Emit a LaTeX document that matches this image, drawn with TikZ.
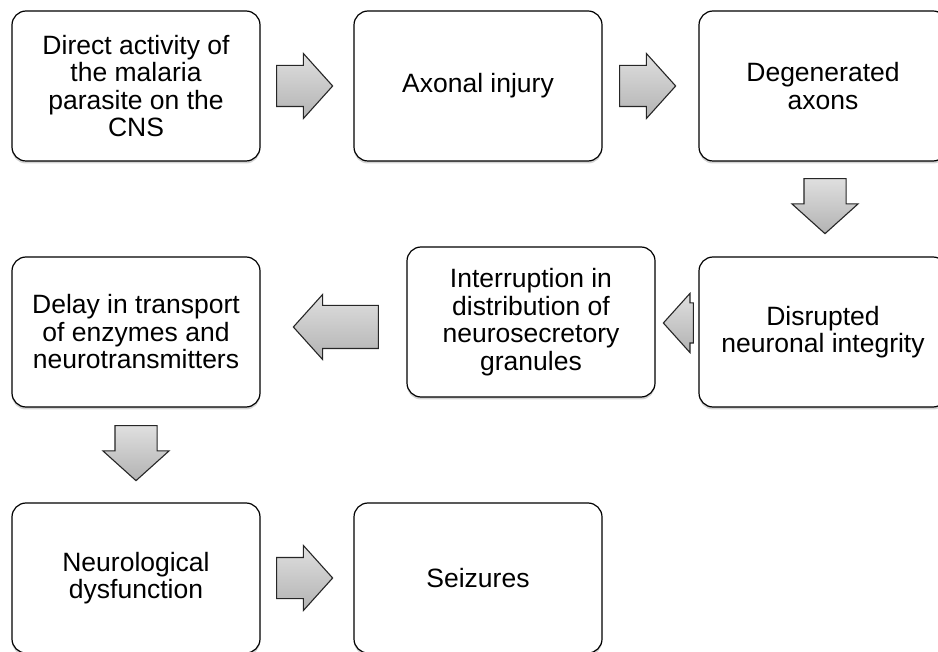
\documentclass[tikz,border=0pt]{standalone}
\usepackage{fontspec}
\setmainfont{Liberation Sans}
\usetikzlibrary{shapes.arrows,shadows,calc}

\begin{document}
\begin{tikzpicture}[x=1pt,y=-1pt,
	box/.style={draw, line width=1.2pt, rounded corners=14pt, fill=white,
		minimum width=248pt, minimum height=150pt, align=center,
		font=\fontsize{26.5}{27.5}\selectfont,
		drop shadow={shadow xshift=0pt, shadow yshift=-2.5pt, opacity=.35}},
	flowarrow/.style={single arrow, draw=black!85, line width=1.1pt, anchor=tip,
		top color=gray!25, bottom color=gray!60, inner xsep=0pt, inner ysep=20pt,
		single arrow head extend=12pt, single arrow tip angle=96},
	downarrow/.style={flowarrow, inner xsep=20.5pt, inner ysep=0pt, shape border rotate=270}]
				\useasboundingbox (0,0) rectangle (938,652);
				
				\node[box] (A) at (136,86) {Direct activity of\\the malaria\\parasite on the\\CNS};
				\node[box] (B) at (478,86) {Axonal injury};
				\node[box] (C) at (823,86) {Degenerated\\axons};
				\node[box] (D) at (823,332) {Disrupted\\neuronal integrity};
				\node[box] (E) at (531,322) {Interruption in\\distribution of\\neurosecretory\\granules};
				\node[box] (F) at (136,332) {Delay in transport\\of enzymes and\\neurotransmitters};
				\node[box] (G) at (136,578) {Neurological\\dysfunction};
				\node[box] (H) at (478,578) {Seizures};
				
				\node[flowarrow, minimum height=56pt] (AB) at ($(B.west)+(-20,0)$) {};
				\node[flowarrow, minimum height=56pt] (BC) at ($(C.west)+(-22,0)$) {};
				\node[downarrow, minimum height=55pt] (CD) at ($(D.north)+(2,-22)$) {};
				\node[flowarrow, minimum height=30pt, inner ysep=19.5pt, single arrow head extend=9.5pt, shape border rotate=180] (DE) at ($(E.east)+(7,1)$) {};
				\node[flowarrow, minimum height=85pt, inner ysep=21pt, single arrow head extend=11pt, shape border rotate=180] (EF) at ($(F.east)+(32,-5)$) {};
				\node[downarrow, minimum height=55pt] (FG) at ($(G.north)+(0,-21)$) {};
				\node[flowarrow, minimum height=56pt] (GH) at ($(H.west)+(-20,0)$) {};
			\end{tikzpicture}
\end{document}
